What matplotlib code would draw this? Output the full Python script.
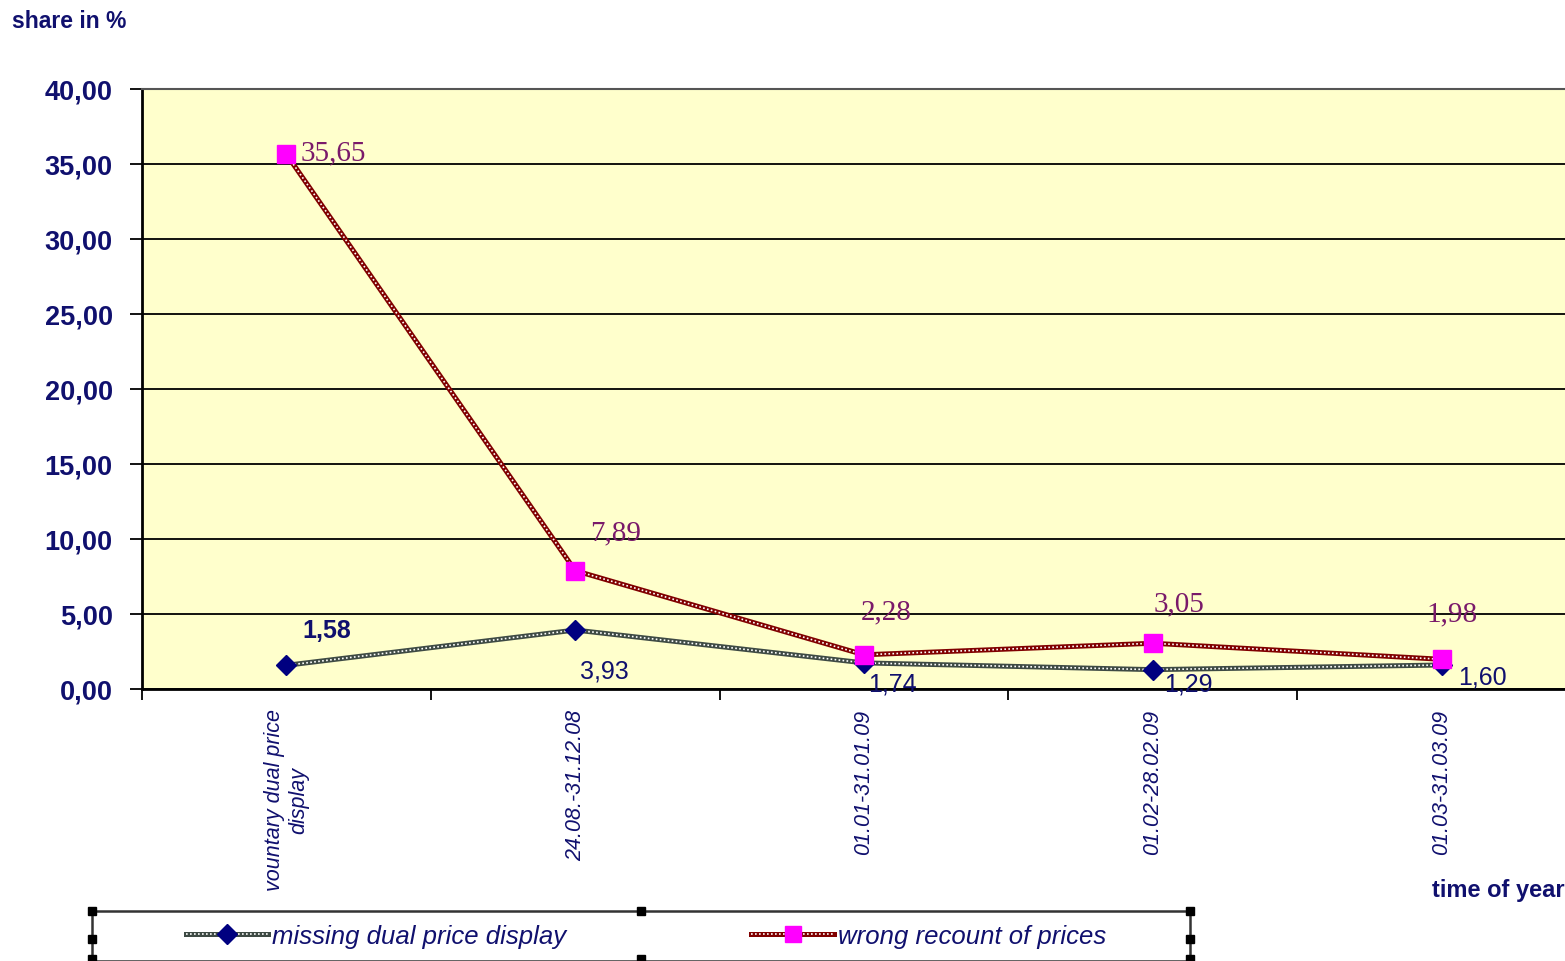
import matplotlib
matplotlib.use("Agg")
import matplotlib.pyplot as plt
import numpy as np
from matplotlib.lines import Line2D
from matplotlib.patches import Rectangle
from matplotlib.legend_handler import HandlerTuple

# periods on the x axis
periods = ["vountary dual price\ndisplay", "24.08.-31.12.08", "01.01-31.01.09",
           "01.02-28.02.09", "01.03-31.03.09"]
missing_dual = [1.58, 3.93, 1.74, 1.29, 1.60]
wrong_recount = [35.65, 7.89, 2.28, 3.05, 1.98]
y_ticks = [0, 5, 10, 15, 20, 25, 30, 35, 40]

navy = "#10106e"
label_purple = "#7a1a6a"
bg_yellow = "#ffffcc"
red_line = "#800000"
grey_line = "#3e4a44"
sans = ["Liberation Sans", "DejaVu Sans"]

W, H = 1565, 962
fig = plt.figure(figsize=(W / 100, H / 100), dpi=100)
fig.patch.set_facecolor("white")

ax = fig.add_axes([142 / W, 1 - 690 / H, 1444 / W, 600 / H])
ax.set_facecolor(bg_yellow)

x = np.arange(len(periods))


def chain_line(xs, ys, color):
    # dark thick line with small white holes -> chain look
    ax.plot(xs, ys, color=color, lw=3.6, zorder=3, solid_capstyle="butt")
    ax.plot(xs, ys, color="white", lw=1.2, zorder=4, linestyle=(0, (1.0, 1.4)))


chain_line(x, missing_dual, grey_line)
chain_line(x, wrong_recount, red_line)
ax.plot(x, missing_dual, linestyle="none", marker="D", ms=10.5, color="#000080",
        mec="#000080", zorder=5)
ax.plot(x, wrong_recount, linestyle="none", marker="s", ms=13, color="#ff00ff",
        mec="#ff00ff", zorder=6)

# value labels: offsets in pixels (dx, dy), y up
red_offsets = [(14, 2), (40, 38), (22, 43), (26, 40), (10, 46)]
blue_offsets = [(40, 35), (29, -40), (28, -21), (36, -14), (41, -12)]
for xi, v, (dx, dy) in zip(x, wrong_recount, red_offsets):
    ha = "left" if xi == 0 else "center"
    ax.annotate(f"{v:.2f}".replace(".", ","), (xi, v), xytext=(dx * 0.72, dy * 0.72),
                textcoords="offset points", ha=ha, va="center", fontsize=21,
                family=["Liberation Serif", "DejaVu Serif"], color=label_purple, zorder=7)
for xi, v, (dx, dy) in zip(x, missing_dual, blue_offsets):
    weight = "bold" if xi == 0 else "normal"
    ax.annotate(f"{v:.2f}".replace(".", ","), (xi, v), xytext=(dx * 0.72, dy * 0.72),
                textcoords="offset points", ha="center", va="center", fontsize=18,
                family=sans, weight=weight, color=navy, zorder=7)

ax.set_xlim(-0.5, len(periods) - 0.5)
ax.set_ylim(0, 40)
ax.set_yticks(y_ticks)
ax.set_yticklabels([f"{t:.2f}".replace(".", ",") for t in y_ticks],
                   fontsize=19.5, weight="bold", color=navy, family=sans)
ax.yaxis.grid(True, color="black", lw=1.3)
ax.set_axisbelow(True)
ax.tick_params(axis="y", length=9, width=1.3, pad=12, color="black")

ax.set_xticks(x)
ax.set_xticklabels(periods, rotation=90, fontsize=15.5, style="italic", color=navy,
                   family=sans, va="top", ha="center", multialignment="center")
ax.tick_params(axis="x", which="major", length=0, pad=14)
ax.set_xticks(np.arange(-0.5, len(periods)), minor=True)
ax.tick_params(axis="x", which="minor", length=8, width=1.3, color="black")

for side in ["left", "bottom"]:
    ax.spines[side].set_color("black")
    ax.spines[side].set_linewidth(2)
ax.spines["top"].set_color("#555555")
ax.spines["top"].set_linewidth(1.5)
ax.spines["right"].set_visible(False)

fig.text(12 / W, 1 - 22 / H, "share in %", fontsize=16.5, weight="bold", color=navy,
         family=sans, va="center", ha="left")
fig.text(1432 / W, 1 - 891 / H, "time of year", fontsize=17, weight="bold", color=navy,
         family=sans, va="center", ha="left")


# legend with a box and selection handles
def legend_handle(color, marker, mcolor, ms):
    return (Line2D([], [], color=color, lw=3.6),
            Line2D([], [], color="white", lw=1.2, linestyle=(0, (1.0, 1.4))),
            Line2D([], [], linestyle="none", marker=marker, ms=ms, color=mcolor))


handles = [legend_handle(grey_line, "D", "#000080", 10.5),
           legend_handle(red_line, "s", "#ff00ff", 12)]
fig.legend(handles, ["missing dual price display", "wrong recount of prices"],
           handler_map={tuple: HandlerTuple(ndivide=1, pad=0)},
           loc="center", bbox_to_anchor=(646 / W, 1 - 937 / H), ncol=2,
           frameon=False, handlelength=3.2, handletextpad=0.15, columnspacing=7.2,
           prop={"family": sans, "style": "italic", "size": 18.5},
           labelcolor=navy)

fig.patches.append(Rectangle((92 / W, 0), (1190 - 92) / W, 1 - 912 / H,
                             transform=fig.transFigure, fill=False, edgecolor="#333333",
                             lw=1.8))
for hx, hy in [(92, 912), (641, 912), (1190, 912), (92, 940), (1190, 940),
               (92, 960), (641, 960), (1190, 960)]:
    fig.patches.append(Rectangle(((hx - 4) / W, 1 - (hy + 4) / H), 8 / W, 8 / H,
                                 transform=fig.transFigure, facecolor="black",
                                 edgecolor="black"))

fig.savefig("out.png", dpi=100)
